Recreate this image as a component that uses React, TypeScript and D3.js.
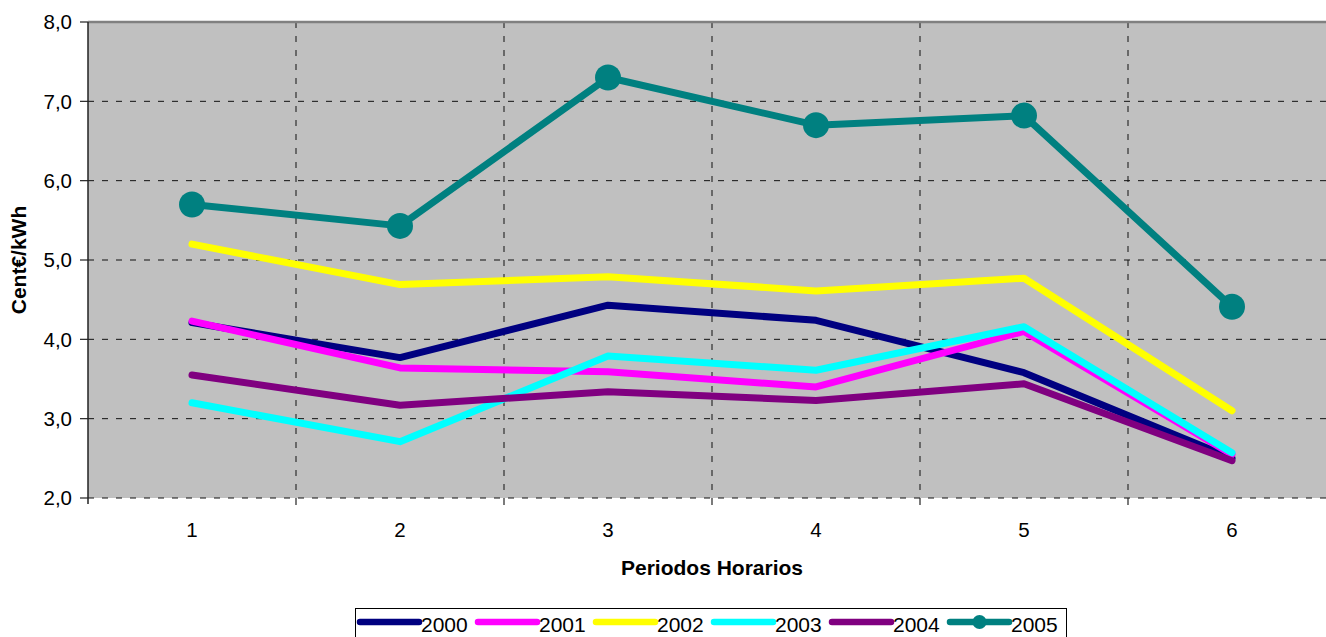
import { useEffect } from 'react'
import * as d3 from 'd3'

// Periodos horarios (1..6)
const periods = [1, 2, 3, 4, 5, 6]
const yTicks = [2, 3, 4, 5, 6, 7, 8]

const years = ['2000', '2001', '2002', '2003', '2004', '2005']
const colors = ['#000080', '#FF00FF', '#FFFF00', '#00FFFF', '#800080', '#008080']

const s2000 = [4.21, 3.77, 4.43, 4.24, 3.58, 2.5]
const s2001 = [4.23, 3.64, 3.59, 3.4, 4.1, 2.55]
const s2002 = [5.2, 4.69, 4.79, 4.61, 4.77, 3.1]
const s2003 = [3.2, 2.71, 3.79, 3.61, 4.16, 2.57]
const s2004 = [3.55, 3.17, 3.34, 3.23, 3.44, 2.47]
const s2005 = [5.7, 5.43, 7.3, 6.7, 6.82, 4.41]
const seriesValues = [s2000, s2001, s2002, s2003, s2004, s2005]

const W = 1326, H = 637
const M = { top: 22, left: 88, bottom: 498, right: 1336 }
const FONT = '"Liberation Sans", Arial, sans-serif'

export default function App() {
  useEffect(() => { document.body.style.margin = '0' }, [])

  const xBand = d3.scaleBand<number>().domain(periods).range([M.left, M.right])
  const xPos = (p: number) => xBand(p)! + xBand.bandwidth() / 2
  const y = d3.scaleLinear().domain([2, 8]).range([M.bottom, M.top])

  const line = d3.line<number>()
    .x((_, i) => xPos(periods[i]))
    .y((v) => y(v))

  const boundaries = periods.map((p) => xBand(p)!).concat([M.right])

  // leyenda
  const legX0 = 360, legStep = 118, legY = 622

  return (
    <svg width={W} height={H} style={{ display: 'block', position: 'absolute', left: 0, top: 0 }}
      fontFamily={FONT}>
      <rect x={M.left} y={M.top} width={M.right - M.left} height={M.bottom - M.top} fill="#C0C0C0" />

      {/* rejilla horizontal */}
      {yTicks.slice(0, -1).map((t) => (
        <line key={'h' + t} x1={M.left} x2={M.right} y1={y(t)} y2={y(t)}
          stroke="#111" strokeWidth={1} strokeDasharray="6,8" />
      ))}
      {/* rejilla vertical */}
      {boundaries.slice(1, -1).map((bx, i) => (
        <line key={'v' + i} x1={bx} x2={bx} y1={M.top} y2={M.bottom}
          stroke="#111" strokeWidth={1} strokeDasharray="6,8" />
      ))}

      {/* borde superior */}
      <line x1={M.left} x2={M.right} y1={M.top} y2={M.top} stroke="#808080" strokeWidth={2.5} />
      {/* eje Y */}
      <line x1={M.left} x2={M.left} y1={M.top} y2={M.bottom + 6} stroke="#222" strokeWidth={1.5} />
      {yTicks.map((t) => (
        <g key={'yt' + t}>
          <line x1={M.left - 8} x2={M.left} y1={y(t)} y2={y(t)} stroke="#222" strokeWidth={1.2} />
          <text x={72} y={y(t)} dy="0.36em" textAnchor="end" fontSize={20.5} fill="#000">
            {t.toFixed(1).replace('.', ',')}
          </text>
        </g>
      ))}
      {/* eje X */}
      {boundaries.slice(1).map((bx, i) => (
        <line key={'xt' + i} x1={bx} x2={bx} y1={M.bottom} y2={M.bottom + 7} stroke="#222" strokeWidth={1.2} />
      ))}
      {periods.map((p) => (
        <text key={'xl' + p} x={xPos(p)} y={537} textAnchor="middle" fontSize={20.5} fill="#000">{p}</text>
      ))}

      {/* títulos */}
      <text x={712} y={575} textAnchor="middle" fontSize={21} fontWeight="bold">Periodos Horarios</text>
      <text transform="translate(26,260) rotate(-90)" textAnchor="middle" fontSize={21} fontWeight="bold">Cent€/kWh</text>

      {/* series */}
      {seriesValues.map((vals, si) => (
        <path key={'s' + si} d={line(vals)!} fill="none" stroke={colors[si]} strokeWidth={7}
          strokeLinecap="round" strokeLinejoin="round" />
      ))}
      {s2005.map((v, i) => (
        <circle key={'m' + i} cx={xPos(periods[i])} cy={y(v)} r={13} fill={colors[5]} />
      ))}

      {/* leyenda */}
      <rect x={355.5} y={608.5} width={711} height={40} fill="#fff" stroke="#000" strokeWidth={1} />
      {years.map((yr, i) => {
        const lx = legX0 + i * legStep
        return (
          <g key={'lg' + yr}>
            <line x1={lx} x2={lx + 59} y1={legY} y2={legY} stroke={colors[i]} strokeWidth={6.5} strokeLinecap="round" />
            {i === 5 && <circle cx={lx + 29.5} cy={legY} r={7} fill={colors[i]} />}
            <text x={lx + 61} y={632} fontSize={21} fill="#000">{yr}</text>
          </g>
        )
      })}
    </svg>
  )
}
